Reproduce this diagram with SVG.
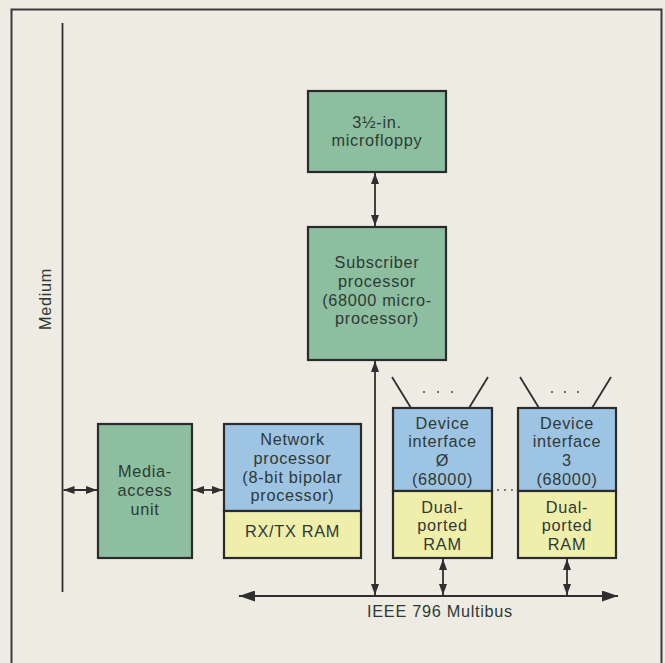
<svg xmlns="http://www.w3.org/2000/svg" width="665" height="663" viewBox="0 0 665 663">
  <style>
    .bg { fill: #eeebe3; }
    .frame { fill: none; stroke: #3a3a3a; stroke-width: 2; }
    .green { fill: #8cbe9f; stroke: #2b2b2b; stroke-width: 2.2; }
    .blue { fill: #9ec4e4; stroke: #2b2b2b; stroke-width: 2.2; }
    .yellow { fill: #efeeab; stroke: #2b2b2b; stroke-width: 2.2; }
    .t { font-family: "Liberation Sans", Arial, Helvetica, sans-serif; font-size: 16.3px; fill: #2f3a36; text-anchor: middle; letter-spacing: 0.7px; }
    .ln { stroke: #2f2f2f; stroke-width: 1.8; fill: none; }
    .dot { fill: #444; }
  </style>
  <defs>
    <marker id="ah" markerUnits="userSpaceOnUse" markerWidth="11" markerHeight="8" refX="11" refY="4" orient="auto-start-reverse">
      <path d="M0,0 L11,4 L0,8 z" fill="#2f2f2f"/>
    </marker>
    <marker id="ahBus" markerUnits="userSpaceOnUse" markerWidth="16" markerHeight="11" refX="16" refY="5.5" orient="auto-start-reverse">
      <path d="M0,0 L16,5.5 L0,11 z" fill="#2f2f2f"/>
    </marker>
  </defs>

  <rect class="bg" x="0" y="0" width="665" height="663"/>
  <path class="frame" d="M11.5,663 V9.5 H661.5 V663"/>

  <g id="medium">
    <line class="ln" x1="62.5" y1="23" x2="62.5" y2="592"/>
    <text class="t" transform="translate(51,299) rotate(-90)">Medium</text>
  </g>

  <g id="microfloppy">
    <rect class="green" x="308" y="91" width="138" height="81"/>
    <text class="t" x="377" y="127.5">3½-in.</text>
    <text class="t" x="377" y="146.3">microfloppy</text>
  </g>

  <g id="subscriber">
    <rect class="green" x="308" y="227" width="138" height="133"/>
    <text class="t" x="377" y="268">Subscriber</text>
    <text class="t" x="377" y="286.8">processor</text>
    <text class="t" x="377" y="305.6">(68000 micro-</text>
    <text class="t" x="377" y="324.4">processor)</text>
  </g>

  <g id="media-access">
    <rect class="green" x="98" y="424" width="94" height="134"/>
    <text class="t" x="145" y="477">Media-</text>
    <text class="t" x="145" y="495.8">access</text>
    <text class="t" x="145" y="514.6">unit</text>
  </g>

  <g id="network">
    <rect class="blue" x="224" y="424" width="137" height="87"/>
    <rect class="yellow" x="224" y="511" width="137" height="47"/>
    <text class="t" x="292.5" y="445">Network</text>
    <text class="t" x="292.5" y="463.8">processor</text>
    <text class="t" x="292.5" y="482.6">(8-bit bipolar</text>
    <text class="t" x="292.5" y="501.4">processor)</text>
    <text class="t" x="292.5" y="537">RX/TX RAM</text>
  </g>

  <g id="device0">
    <line class="ln" x1="392" y1="377" x2="411" y2="408"/>
    <line class="ln" x1="488" y1="377" x2="469" y2="408"/>
    <circle class="dot" cx="424" cy="392" r="1"/>
    <circle class="dot" cx="438" cy="392" r="1"/>
    <circle class="dot" cx="452" cy="392" r="1"/>
    <rect class="blue" x="393" y="408" width="99" height="83"/>
    <rect class="yellow" x="393" y="491" width="99" height="67"/>
    <text class="t" x="442.5" y="428.5">Device</text>
    <text class="t" x="442.5" y="447.3">interface</text>
    <text class="t" x="442.5" y="466.1">Ø</text>
    <text class="t" x="442.5" y="484.9">(68000)</text>
    <text class="t" x="442.5" y="512.5">Dual-</text>
    <text class="t" x="442.5" y="531.3">ported</text>
    <text class="t" x="442.5" y="550.1">RAM</text>
  </g>

  <g id="between-dots">
    <circle class="dot" cx="498" cy="490" r="0.9"/>
    <circle class="dot" cx="505" cy="490" r="0.9"/>
    <circle class="dot" cx="512" cy="490" r="0.9"/>
  </g>

  <g id="device3">
    <line class="ln" x1="520" y1="377" x2="539" y2="408"/>
    <line class="ln" x1="611" y1="377" x2="592" y2="408"/>
    <circle class="dot" cx="552" cy="392" r="1"/>
    <circle class="dot" cx="565" cy="392" r="1"/>
    <circle class="dot" cx="578" cy="392" r="1"/>
    <rect class="blue" x="518" y="408" width="98" height="83"/>
    <rect class="yellow" x="518" y="491" width="98" height="67"/>
    <text class="t" x="567" y="428.5">Device</text>
    <text class="t" x="567" y="447.3">interface</text>
    <text class="t" x="567" y="466.1">3</text>
    <text class="t" x="567" y="484.9">(68000)</text>
    <text class="t" x="567" y="512.5">Dual-</text>
    <text class="t" x="567" y="531.3">ported</text>
    <text class="t" x="567" y="550.1">RAM</text>
  </g>

  <g id="bus">
    <line class="ln" x1="239" y1="596" x2="618" y2="596" marker-start="url(#ahBus)" marker-end="url(#ahBus)" stroke-width="2.2"/>
    <text class="t" x="440" y="617">IEEE 796 Multibus</text>
  </g>

  <g id="connectors">
    <line class="ln" x1="63.5" y1="490" x2="97" y2="490" marker-start="url(#ah)" marker-end="url(#ah)"/>
    <line class="ln" x1="193" y1="490" x2="223" y2="490" marker-start="url(#ah)" marker-end="url(#ah)"/>
    <line class="ln" x1="375" y1="173" x2="375" y2="226" marker-start="url(#ah)" marker-end="url(#ah)"/>
    <line class="ln" x1="375" y1="361" x2="375" y2="595" marker-start="url(#ah)" marker-end="url(#ah)"/>
    <line class="ln" x1="443" y1="559" x2="443" y2="595" marker-start="url(#ah)" marker-end="url(#ah)"/>
    <line class="ln" x1="567" y1="559" x2="567" y2="595" marker-start="url(#ah)" marker-end="url(#ah)"/>
  </g>
</svg>
